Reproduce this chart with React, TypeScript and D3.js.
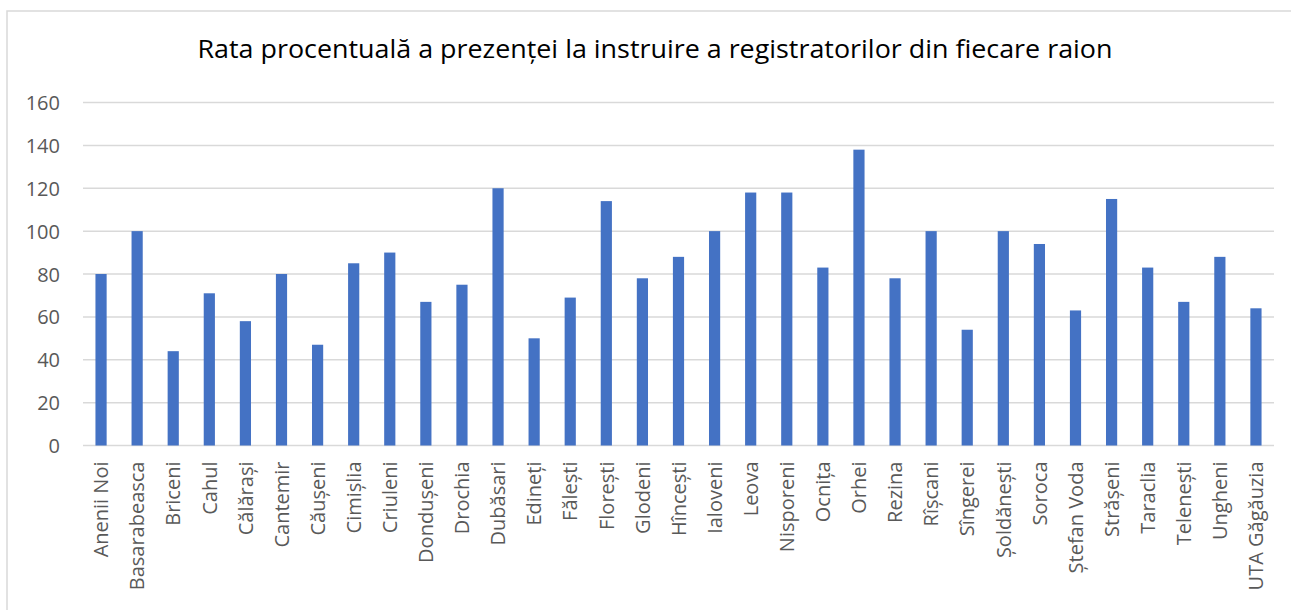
import * as d3 from "d3";

const WIDTH = 1291;
const HEIGHT = 610;
const MARGIN = { top: 102.5, right: 17, bottom: 164.5, left: 83 };
const BAR_COLOR = "#4472C4";
const GRID_COLOR = "#d9d9d9";
const TEXT_COLOR = "#595959";
const FONT_SIZE = 20;

const TITLE = "Rata procentuală a prezenței la instruire a registratorilor din fiecare raion";

const raioane = [
  "Anenii Noi", "Basarabeasca", "Briceni", "Cahul", "Călărași", "Cantemir",
  "Căușeni", "Cimișlia", "Criuleni", "Dondușeni", "Drochia", "Dubăsari",
  "Edineți", "Fălești", "Florești", "Glodeni", "Hîncești", "Ialoveni",
  "Leova", "Nisporeni", "Ocnița", "Orhei", "Rezina", "Rîșcani", "Sîngerei",
  "Șoldănești", "Soroca", "Ștefan Voda", "Strășeni", "Taraclia", "Telenești",
  "Ungheni", "UTA Găgăuzia",
];

const rata = [
  80, 100, 44, 71, 58, 80,
  47, 85, 90, 67, 75, 120,
  50, 69, 114, 78, 88, 100,
  118, 118, 83, 138, 78, 100, 54,
  100, 94, 63, 115, 83, 67,
  88, 64,
];

const yTicks = [0, 20, 40, 60, 80, 100, 120, 140, 160];

const App = () => {
  const boundsWidth = WIDTH - MARGIN.left - MARGIN.right;
  const boundsHeight = HEIGHT - MARGIN.top - MARGIN.bottom;

  const xScale = d3.scaleBand().domain(raioane).range([0, boundsWidth]).padding(0);
  const yScale = d3.scaleLinear().domain([0, 160]).range([boundsHeight, 0]);

  // Excel-like narrow bars (big gap width)
  const barWidth = xScale.bandwidth() * 0.31;

  const grid = yTicks.map((t) => (
    <g key={t}>
      <line
        x1={0}
        x2={boundsWidth}
        y1={yScale(t)}
        y2={yScale(t)}
        stroke={GRID_COLOR}
        strokeWidth={1.5}
      />
      <text
        x={-23}
        y={yScale(t)}
        textAnchor="end"
        dominantBaseline="central"
        fontSize={FONT_SIZE}
        fill={TEXT_COLOR}
      >
        {t}
      </text>
    </g>
  ));

  const bars = raioane.map((name, i) => {
    const cx = (xScale(name) ?? 0) + xScale.bandwidth() / 2;
    return (
      <rect
        key={name}
        x={cx - barWidth / 2}
        y={yScale(rata[i])}
        width={barWidth}
        height={boundsHeight - yScale(rata[i])}
        fill={BAR_COLOR}
      />
    );
  });

  const labels = raioane.map((name) => {
    const cx = (xScale(name) ?? 0) + xScale.bandwidth() / 2;
    return (
      <text
        key={name}
        transform={`translate(${cx},${boundsHeight + 16}) rotate(-90)`}
        textAnchor="end"
        dy="0.36em"
        fontSize={FONT_SIZE}
        fill={TEXT_COLOR}
      >
        {name}
      </text>
    );
  });

  return (
    <svg
      width={WIDTH}
      height={HEIGHT}
      style={{ position: "absolute", left: 0, top: 0, fontFamily: "'Open Sans', sans-serif" }}
    >
      <rect x={0} y={0} width={WIDTH} height={HEIGHT} fill="#fff" />
      <rect x={7} y={11} width={WIDTH + 10} height={HEIGHT + 10} fill="none" stroke={GRID_COLOR} strokeWidth={1.5} />
      <text
        x={655}
        y={58}
        textAnchor="middle"
        fontSize={25}
        fill="#000"
        style={{ fontFamily: "'Open Sans', sans-serif" }}
        textLength={915}
        lengthAdjust="spacingAndGlyphs"
      >
        {TITLE}
      </text>
      <g transform={`translate(${MARGIN.left},${MARGIN.top})`}>
        <g>{grid}</g>
        <g>{bars}</g>
        <g>{labels}</g>
      </g>
    </svg>
  );
};

export default App;
